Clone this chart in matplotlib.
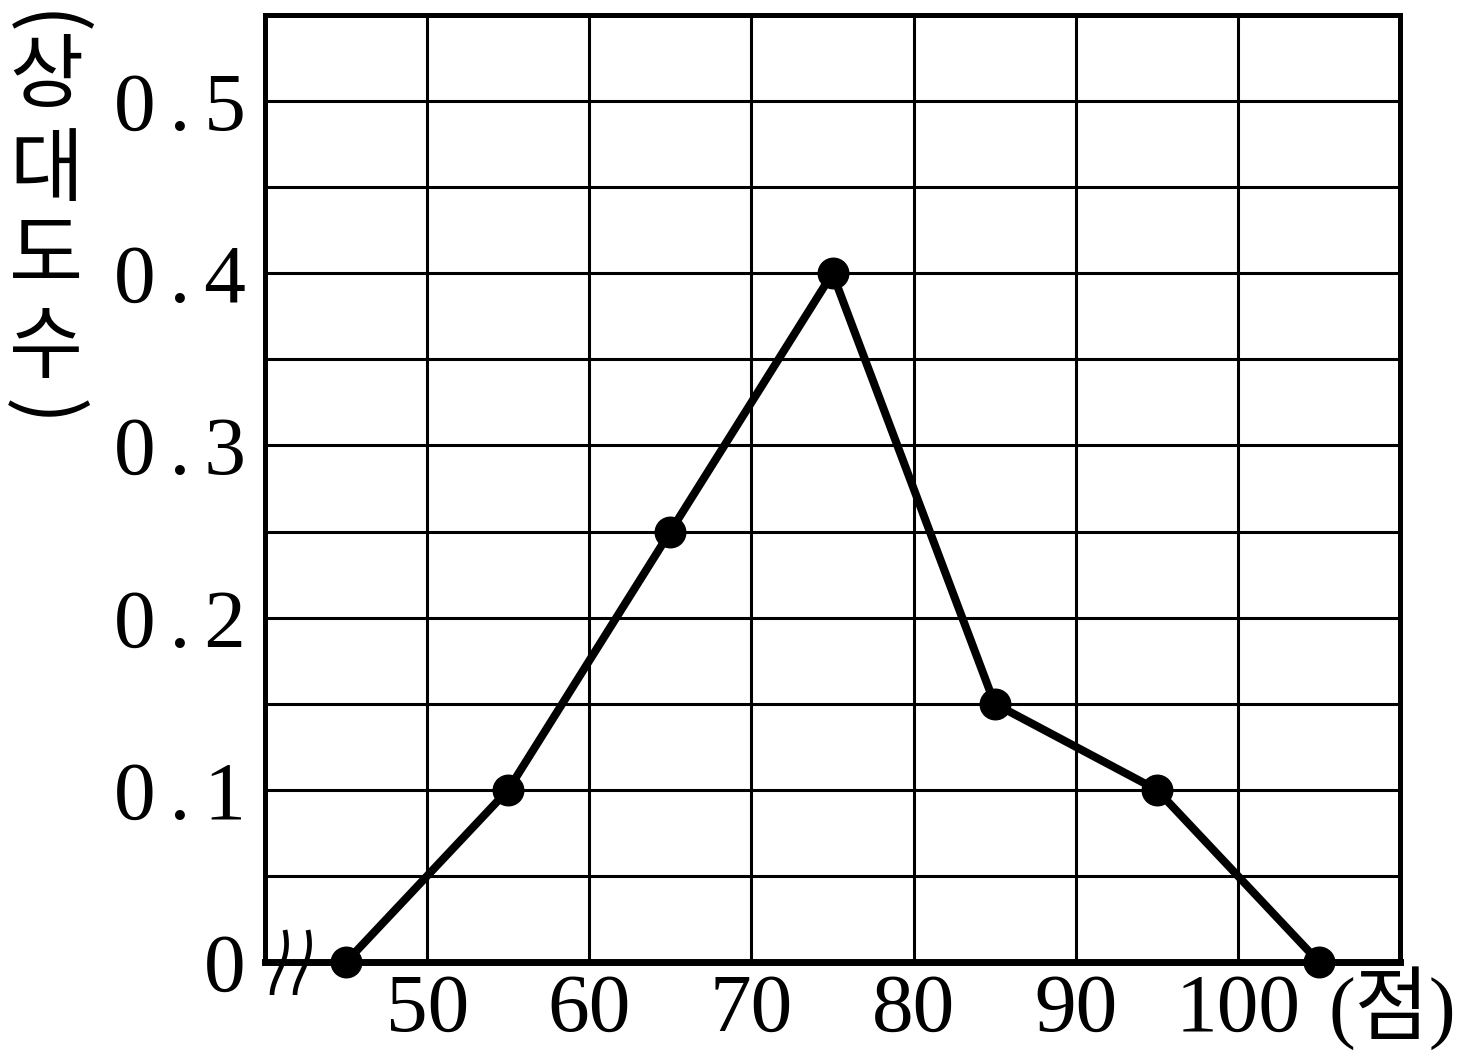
import matplotlib
matplotlib.use("Agg")
import matplotlib.pyplot as plt
import numpy as np

scores = [45, 55, 65, 75, 85, 95, 105]
rel_freq = [0, 0.1, 0.25, 0.4, 0.15, 0.1, 0]
xtick_vals = [50, 60, 70, 80, 90, 100]
ytick_vals = [0, 0.1, 0.2, 0.3, 0.4, 0.5]
sp = '\u2006'
ytick_labels = ['0'] + [f'0{sp}.{sp}{d}' for d in range(1, 6)]
ylabel_chars = ['상', '대', '도', '수']

fonts = ['Liberation Serif', 'Noto Sans CJK KR']
plt.rcParams['font.family'] = fonts

W, H = 1477, 1063
fig = plt.figure(figsize=(W / 100, H / 100), dpi=100)
ax = fig.add_axes([265 / W, 1 - 962 / H, (1400 - 265) / W, (962 - 15) / H])

ax.set_xlim(40, 110)
ax.set_ylim(0, 0.55)

# grid
for gx in np.arange(50, 110, 10):
    ax.axvline(gx, color='black', lw=2.2, zorder=1)
for gy in np.arange(0.05, 0.55, 0.05):
    ax.axhline(gy, color='black', lw=2.2, zorder=1)

ax.plot(scores, rel_freq, color='black', lw=5.8, marker='o', ms=22,
        clip_on=False, zorder=3)

for side in ['top', 'right', 'left']:
    ax.spines[side].set_linewidth(3.6)
ax.spines['bottom'].set_linewidth(5)

ax.set_xticks(xtick_vals)
ax.set_xticklabels([str(v) for v in xtick_vals])
ax.set_yticks(ytick_vals)
ax.set_yticklabels(ytick_labels)
ax.tick_params(length=0, labelsize=60)
ax.tick_params(axis='y', pad=14)
ax.tick_params(axis='x', pad=8)

# axis break marks (S-shaped strokes), offsets in pixels
t = np.linspace(0, 1, 60)
px = 285 - 6.5 * (1 - np.cos(np.pi * t ** 1.4)) + 4 * np.sin(np.pi * t) * (1 - t)
py = 930 + 65 * t
for shift in [0, 23]:
    xs = 40 + (px + shift - 265) / 16.21
    ys = (962 - py) * 0.55 / 947
    ax.plot(xs, ys, color='black', lw=3.4, clip_on=False, zorder=4,
            solid_capstyle='butt')

# y label, stacked vertically
fig.text(44 / W, 1 - 25 / H, '(', rotation=-90, fontsize=58,
         ha='center', va='center', family=['Noto Sans CJK KR'])
ys_px = [78, 172, 258, 349]
for ch, yp in zip(ylabel_chars, ys_px):
    fig.text(46 / W, 1 - yp / H, ch, fontsize=58, ha='center', va='center',
             family=['Noto Sans CJK KR'])
fig.text(44 / W, 1 - 413 / H, ')', rotation=-90, fontsize=58,
         ha='center', va='center', family=['Noto Sans CJK KR'])

fig.text(1392 / W, 1 - 1008 / H, '(점)', fontsize=58, ha='center',
         va='center', family=fonts)

fig.savefig('out.png', dpi=100)
